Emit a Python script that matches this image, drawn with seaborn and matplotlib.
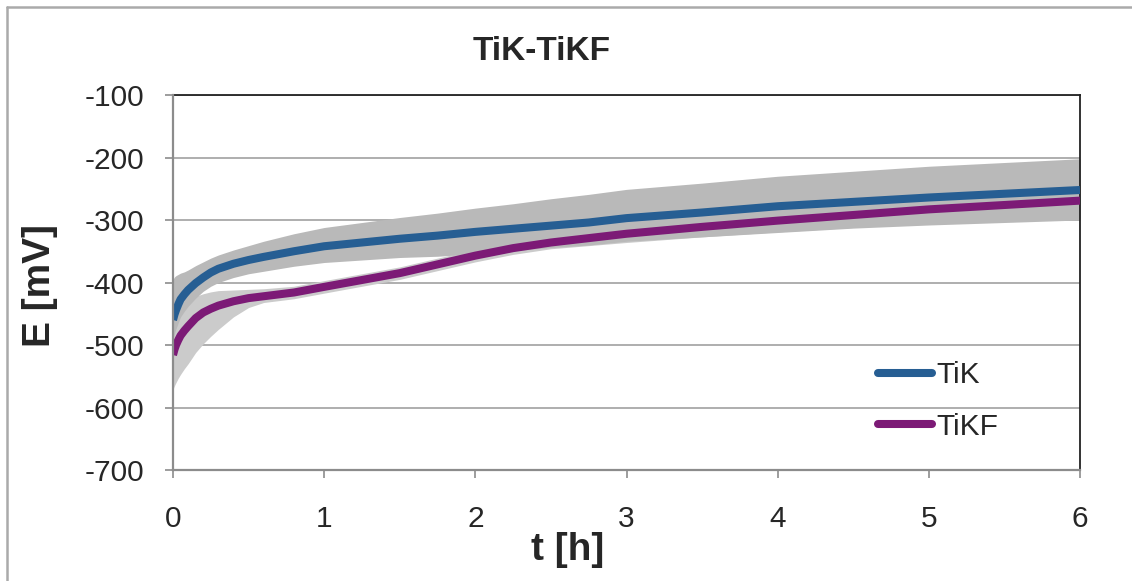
import numpy as np
import pandas as pd
import matplotlib
matplotlib.use("Agg")
import matplotlib.pyplot as plt
from matplotlib.lines import Line2D
import seaborn as sns

# Open-circuit potential vs. time for two sample groups (mean with spread)
time_h = [0, 0.01, 0.02, 0.035, 0.05, 0.075, 0.1, 0.15, 0.2, 0.25, 0.3, 0.4, 0.5, 0.6,
          0.8, 1.0, 1.25, 1.5, 1.75, 2.0, 2.25, 2.5, 2.75, 3.0, 3.5, 4.0, 4.5, 5.0, 5.5, 6.0]

tik_mean = [-460, -451, -444, -435, -427, -419, -412, -401, -392, -384, -378, -370, -364,
            -359, -350, -342, -336, -330, -325, -319, -314, -309, -304, -297, -288, -278,
            -271, -264, -258, -252]
tik_dev_up = [65, 60, 55, 48, 42, 36, 32, 28, 25, 23, 22, 22, 23, 25,
              28, 30, 32, 34, 36, 38, 40, 43, 45, 46, 47, 48, 49, 50, 50, 50]
tik_dev_down = [30, 30, 30, 29, 28, 27, 26, 24, 22, 22, 22, 22, 22, 23,
                24, 26, 28, 30, 33, 35, 35, 35, 36, 37, 39, 42, 42, 44, 46, 48]

tikf_mean = [-516, -507, -500, -492, -485, -477, -470, -457, -448, -442, -437, -430, -425,
             -422, -416, -407, -396, -385, -371, -357, -345, -336, -329, -322, -311, -301,
             -292, -283, -276, -269]
tikf_dev_up = [45, 45, 45, 44, 42, 41, 40, 35, 30, 27, 24, 18, 14, 12,
               10, 10, 10, 10, 10, 10, 10, 10, 12, 14, 16, 18, 20, 22, 24, 26]
tikf_dev_down = [55, 58, 60, 61, 62, 61, 60, 55, 50, 44, 38, 25, 15, 10,
                 10, 10, 10, 10, 10, 10, 10, 10, 12, 14, 16, 18, 20, 22, 24, 28]

series_names = ["TiK", "TiKF"]
series_colors = {"TiK": "#265E93", "TiKF": "#7C1A76"}

title_text = "TiK-TiKF"
x_label = "t [h]"
y_label = "E [mV]"
x_ticks = [0, 1, 2, 3, 4, 5, 6]
y_ticks = [-700, -600, -500, -400, -300, -200, -100]

df = pd.DataFrame({
    "t": time_h * 2,
    "E": tik_mean + tikf_mean,
    "series": ["TiK"] * len(time_h) + ["TiKF"] * len(time_h),
})

sns.set_style("white")
plt.rcParams["font.family"] = ["Liberation Sans", "DejaVu Sans"]

W, H = 1132, 581
fig = plt.figure(figsize=(W / 100, H / 100), dpi=100)
ax = fig.add_axes([173 / W, 1 - 470 / H, (1080 - 173) / W, (470 - 95) / H])

t = np.array(time_h)
# spread bands: TiKF underneath, TiK on top
ax.fill_between(t, np.array(tikf_mean) - np.array(tikf_dev_down),
                np.array(tikf_mean) + np.array(tikf_dev_up),
                color="#cbcbcb", linewidth=0, zorder=2)
ax.fill_between(t, np.array(tik_mean) - np.array(tik_dev_down),
                np.array(tik_mean) + np.array(tik_dev_up),
                color="#b9b9b9", linewidth=0, zorder=2)

sns.lineplot(data=df, x="t", y="E", hue="series", hue_order=series_names,
             palette=series_colors, linewidth=5.8, ax=ax, legend=False,
             zorder=3, solid_capstyle="butt")

ax.set_xlim(0, 6)
ax.set_ylim(-700, -100)
ax.set_xticks(x_ticks)
ax.set_yticks(y_ticks)
ax.set_xticklabels([str(v) for v in x_ticks])
ax.set_yticklabels([str(v) for v in y_ticks])
ax.set_xlabel("")
ax.set_ylabel("")

ax.grid(axis="y", color="#a8a8a8", linewidth=1.3, zorder=1)
ax.grid(axis="x", visible=False)
ax.set_axisbelow(True)

for side in ["top", "right"]:
    ax.spines[side].set_color("#222222")
    ax.spines[side].set_linewidth(1.3)
for side in ["left", "bottom"]:
    ax.spines[side].set_color("#8c8c8c")
    ax.spines[side].set_linewidth(1.6)
    ax.spines[side].set_zorder(4)

ax.tick_params(axis="y", direction="out", length=6, width=1.2, color="#8c8c8c",
               labelsize=21.5, pad=15, left=True)
ax.tick_params(axis="x", direction="out", length=6, width=1.2, color="#8c8c8c",
               labelsize=21.5, pad=19, bottom=True)

handles = [Line2D([0], [0], color=series_colors[n], linewidth=5.8,
                  solid_capstyle="round") for n in series_names]
ax.legend(handles, series_names, loc="center left",
          bbox_to_anchor=((878 - 173) / 907, (470 - 401) / 375),
          frameon=False, fontsize=21.5, handlelength=1.8, handletextpad=0.15,
          labelspacing=0.8, borderpad=0, borderaxespad=0)

fig.text(542 / W, 1 - 52 / H, title_text, ha="center", va="center",
         fontsize=24, fontweight="bold")
fig.text(568 / W, 1 - 550 / H, x_label, ha="center", va="center",
         fontsize=28, fontweight="bold")
fig.text(40 / W, 1 - 286 / H, y_label, ha="center", va="center",
         fontsize=28, fontweight="bold", rotation=90)

# outer chart frame (top and left edges)
fig.add_artist(Line2D([6.5 / W, 1], [1 - 6.5 / H, 1 - 6.5 / H],
                      transform=fig.transFigure, color="#aaaaaa", linewidth=1.8))
fig.add_artist(Line2D([6.5 / W, 6.5 / W], [0, 1 - 6.5 / H],
                      transform=fig.transFigure, color="#aaaaaa", linewidth=1.8))

fig.savefig("out.png", dpi=100, facecolor="white")
